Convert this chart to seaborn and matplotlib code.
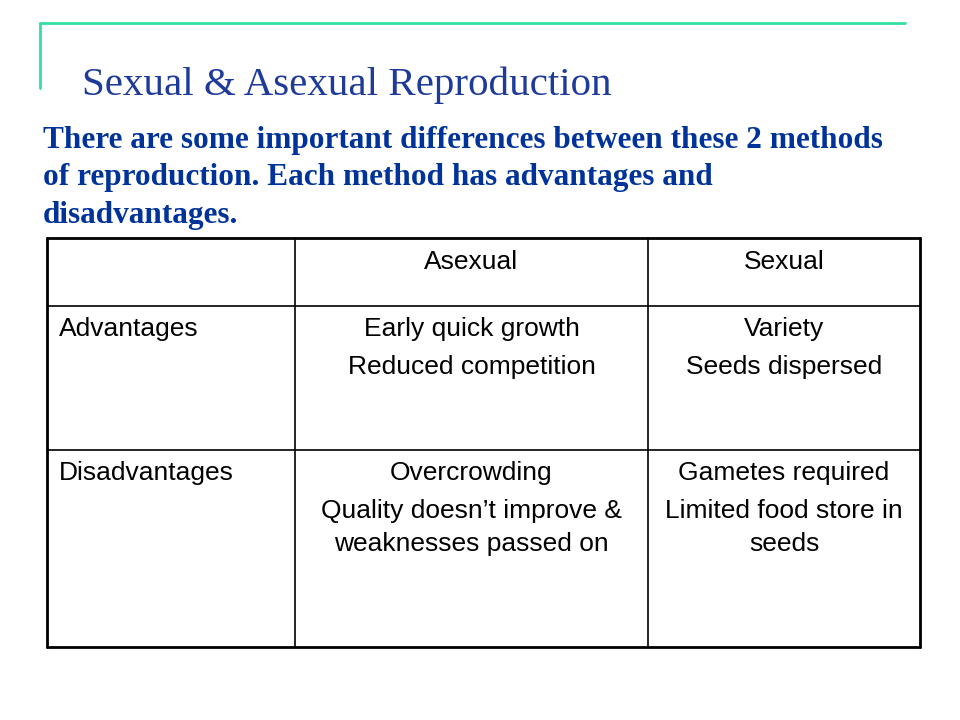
import matplotlib
matplotlib.use("Agg")
import matplotlib.pyplot as plt
import seaborn as sns

sns.set_theme(style="white")

title = "Sexual & Asexual Reproduction"
subtitle_lines = ["There are some important differences between these 2 methods",
                  "of reproduction. Each method has advantages and",
                  "disadvantages."]
col_headers = ["", "Asexual", "Sexual"]
row_labels = ["Advantages", "Disadvantages"]
cells = [
    [["Early quick growth"], ["Reduced competition"]],
    [["Variety"], ["Seeds dispersed"]],
]
cells2 = [
    [["Overcrowding"], ["Quality doesn\u2019t improve &", "weaknesses passed on"]],
    [["Gametes required"], ["Limited food store in", "seeds"]],
]

fig = plt.figure(figsize=(9.6, 7.2), dpi=100)
ax = fig.add_axes([0, 0, 1, 1])
ax.set_xlim(0, 960); ax.set_ylim(720, 0); ax.axis("off")

green = "#33E0A0"
ax.plot([40, 905], [23, 23], color=green, lw=2)
ax.plot([40, 40], [23, 88], color=green, lw=2)

ax.text(82, 95, title, fontsize=29.5, family="Liberation Serif", color="#1F3B99", va="baseline")
for i, l in enumerate(subtitle_lines):
    ax.text(43, 148 + i * 37.5, l, fontsize=22.5, family="Liberation Serif", weight="bold",
            color="#003399", va="baseline")

xs = [47, 295, 648, 920]
ys = [238, 306, 450, 647]
for x in xs:
    ax.plot([x, x], [ys[0], ys[-1]], color="black", lw=1.2 if x in (295, 648) else 2)
for y in ys:
    ax.plot([xs[0], xs[-1]], [y, y], color="black", lw=1.2 if y in (306, 450) else 2)

fs = 19
f = "Liberation Sans"
for j in range(1, 3):
    ax.text((xs[j] + xs[j + 1]) / 2, 262, col_headers[j], ha="center", va="center", fontsize=fs, family=f, color="black")
for r, lab in enumerate(row_labels):
    ax.text(59, ys[r + 1] + 23, lab, ha="left", va="center", fontsize=fs, family=f, color="black")

for r, rowcells in enumerate([cells, cells2]):
    for j, paras in enumerate(rowcells):
        cx = (xs[j + 1] + xs[j + 2]) / 2
        y = ys[r + 1] + 23
        for pi, para in enumerate(paras):
            if pi > 0:
                y += 38
            for li, line in enumerate(para):
                if li > 0:
                    y += 33
                ax.text(cx, y, line, ha="center", va="center", fontsize=fs, family=f, color="black")

fig.savefig("out.png", dpi=100)
